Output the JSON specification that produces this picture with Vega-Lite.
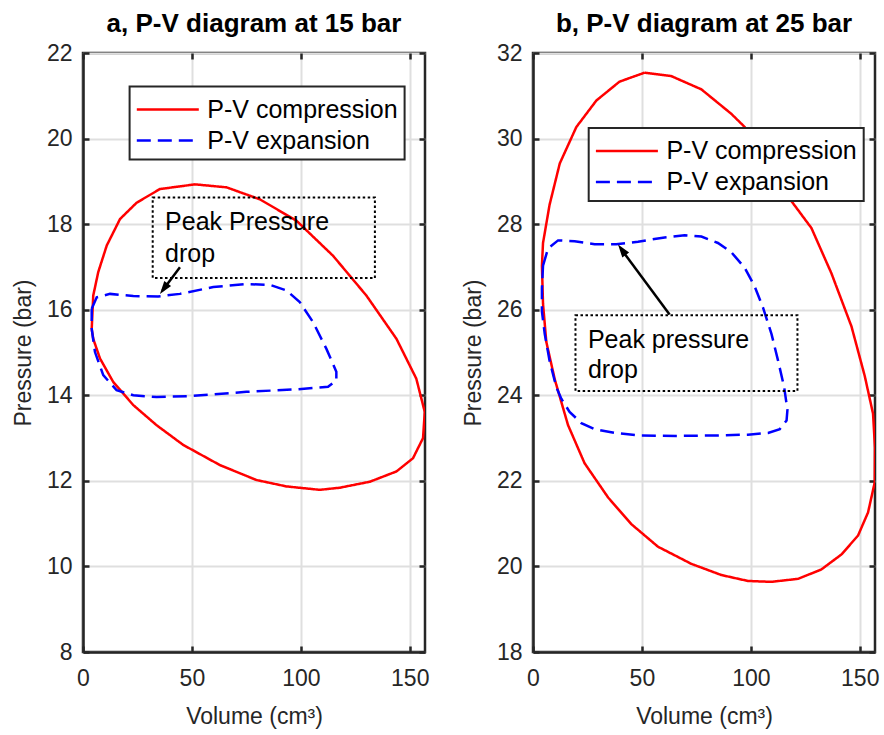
{
"$schema":"https://vega.github.io/schema/vega-lite/v6.json",
"padding":{"left":11,"top":9,"right":0,"bottom":0},
"datasets":{
"curves":[
{"panel":"a","s":"P-V compression","i":1,"V":4.0,"P":15.55},
{"panel":"a","s":"P-V compression","i":2,"V":4.7,"P":16.33},
{"panel":"a","s":"P-V compression","i":3,"V":7.0,"P":16.88},
{"panel":"a","s":"P-V compression","i":4,"V":10.9,"P":17.5},
{"panel":"a","s":"P-V compression","i":5,"V":17.0,"P":18.12},
{"panel":"a","s":"P-V compression","i":6,"V":24.6,"P":18.5},
{"panel":"a","s":"P-V compression","i":7,"V":35.3,"P":18.82},
{"panel":"a","s":"P-V compression","i":8,"V":51.4,"P":18.93},
{"panel":"a","s":"P-V compression","i":9,"V":65.9,"P":18.86},
{"panel":"a","s":"P-V compression","i":10,"V":81.2,"P":18.58},
{"panel":"a","s":"P-V compression","i":11,"V":98.0,"P":18.08},
{"panel":"a","s":"P-V compression","i":12,"V":114.8,"P":17.26},
{"panel":"a","s":"P-V compression","i":13,"V":130.1,"P":16.33},
{"panel":"a","s":"P-V compression","i":14,"V":143.9,"P":15.32},
{"panel":"a","s":"P-V compression","i":15,"V":153.0,"P":14.39},
{"panel":"a","s":"P-V compression","i":16,"V":156.9,"P":13.61},
{"panel":"a","s":"P-V compression","i":17,"V":156.1,"P":13.0},
{"panel":"a","s":"P-V compression","i":18,"V":151.5,"P":12.53},
{"panel":"a","s":"P-V compression","i":19,"V":143.9,"P":12.22},
{"panel":"a","s":"P-V compression","i":20,"V":131.7,"P":11.98},
{"panel":"a","s":"P-V compression","i":21,"V":117.9,"P":11.84},
{"panel":"a","s":"P-V compression","i":22,"V":108.7,"P":11.79},
{"panel":"a","s":"P-V compression","i":23,"V":93.4,"P":11.87},
{"panel":"a","s":"P-V compression","i":24,"V":79.6,"P":12.02},
{"panel":"a","s":"P-V compression","i":25,"V":62.8,"P":12.37},
{"panel":"a","s":"P-V compression","i":26,"V":46.0,"P":12.84},
{"panel":"a","s":"P-V compression","i":27,"V":33.8,"P":13.3},
{"panel":"a","s":"P-V compression","i":28,"V":23.1,"P":13.77},
{"panel":"a","s":"P-V compression","i":29,"V":13.9,"P":14.31},
{"panel":"a","s":"P-V compression","i":30,"V":7.8,"P":14.86},
{"panel":"a","s":"P-V compression","i":31,"V":4.7,"P":15.32},
{"panel":"a","s":"P-V compression","i":32,"V":4.0,"P":15.55},
{"panel":"a","s":"P-V expansion","i":1,"V":4.0,"P":16.02},
{"panel":"a","s":"P-V expansion","i":2,"V":6.3,"P":16.29},
{"panel":"a","s":"P-V expansion","i":3,"V":12.4,"P":16.37},
{"panel":"a","s":"P-V expansion","i":4,"V":23.1,"P":16.32},
{"panel":"a","s":"P-V expansion","i":5,"V":34.5,"P":16.31},
{"panel":"a","s":"P-V expansion","i":6,"V":44.5,"P":16.37},
{"panel":"a","s":"P-V expansion","i":7,"V":59.8,"P":16.53},
{"panel":"a","s":"P-V expansion","i":8,"V":75.0,"P":16.6},
{"panel":"a","s":"P-V expansion","i":9,"V":85.8,"P":16.58},
{"panel":"a","s":"P-V expansion","i":10,"V":93.4,"P":16.45},
{"panel":"a","s":"P-V expansion","i":11,"V":99.5,"P":16.18},
{"panel":"a","s":"P-V expansion","i":12,"V":105.6,"P":15.71},
{"panel":"a","s":"P-V expansion","i":13,"V":111.7,"P":15.09},
{"panel":"a","s":"P-V expansion","i":14,"V":116.3,"P":14.55},
{"panel":"a","s":"P-V expansion","i":15,"V":116.3,"P":14.35},
{"panel":"a","s":"P-V expansion","i":16,"V":112.5,"P":14.2},
{"panel":"a","s":"P-V expansion","i":17,"V":98.0,"P":14.14},
{"panel":"a","s":"P-V expansion","i":18,"V":75.0,"P":14.08},
{"panel":"a","s":"P-V expansion","i":19,"V":49.0,"P":13.98},
{"panel":"a","s":"P-V expansion","i":20,"V":33.8,"P":13.96},
{"panel":"a","s":"P-V expansion","i":21,"V":23.1,"P":14.0},
{"panel":"a","s":"P-V expansion","i":22,"V":15.4,"P":14.12},
{"panel":"a","s":"P-V expansion","i":23,"V":9.3,"P":14.47},
{"panel":"a","s":"P-V expansion","i":24,"V":5.5,"P":15.01},
{"panel":"a","s":"P-V expansion","i":25,"V":4.0,"P":15.55},
{"panel":"a","s":"P-V expansion","i":26,"V":4.0,"P":16.02},
{"panel":"b","s":"P-V compression","i":1,"V":51.2,"P":31.54},
{"panel":"b","s":"P-V compression","i":2,"V":63.5,"P":31.46},
{"panel":"b","s":"P-V compression","i":3,"V":77.3,"P":31.15},
{"panel":"b","s":"P-V compression","i":4,"V":91.0,"P":30.58},
{"panel":"b","s":"P-V compression","i":5,"V":97.2,"P":30.27},
{"panel":"b","s":"P-V compression","i":6,"V":118.6,"P":28.54},
{"panel":"b","s":"P-V compression","i":7,"V":127.8,"P":27.91},
{"panel":"b","s":"P-V compression","i":8,"V":137.0,"P":26.85},
{"panel":"b","s":"P-V compression","i":9,"V":146.2,"P":25.61},
{"panel":"b","s":"P-V compression","i":10,"V":152.3,"P":24.45},
{"panel":"b","s":"P-V compression","i":11,"V":156.1,"P":23.57},
{"panel":"b","s":"P-V compression","i":12,"V":157.0,"P":22.77},
{"panel":"b","s":"P-V compression","i":13,"V":156.9,"P":21.97},
{"panel":"b","s":"P-V compression","i":14,"V":153.8,"P":21.26},
{"panel":"b","s":"P-V compression","i":15,"V":149.2,"P":20.72},
{"panel":"b","s":"P-V compression","i":16,"V":141.6,"P":20.28},
{"panel":"b","s":"P-V compression","i":17,"V":132.4,"P":19.93},
{"panel":"b","s":"P-V compression","i":18,"V":121.7,"P":19.71},
{"panel":"b","s":"P-V compression","i":19,"V":109.4,"P":19.64},
{"panel":"b","s":"P-V compression","i":20,"V":98.7,"P":19.66},
{"panel":"b","s":"P-V compression","i":21,"V":86.4,"P":19.8},
{"panel":"b","s":"P-V compression","i":22,"V":72.7,"P":20.06},
{"panel":"b","s":"P-V compression","i":23,"V":57.4,"P":20.46},
{"panel":"b","s":"P-V compression","i":24,"V":45.1,"P":20.99},
{"panel":"b","s":"P-V compression","i":25,"V":34.5,"P":21.61},
{"panel":"b","s":"P-V compression","i":26,"V":23.7,"P":22.41},
{"panel":"b","s":"P-V compression","i":27,"V":16.1,"P":23.3},
{"panel":"b","s":"P-V compression","i":28,"V":10.0,"P":24.37},
{"panel":"b","s":"P-V compression","i":29,"V":6.1,"P":25.25},
{"panel":"b","s":"P-V compression","i":30,"V":4.6,"P":26.14},
{"panel":"b","s":"P-V compression","i":31,"V":4.1,"P":27.03},
{"panel":"b","s":"P-V compression","i":32,"V":4.6,"P":27.56},
{"panel":"b","s":"P-V compression","i":33,"V":7.6,"P":28.45},
{"panel":"b","s":"P-V compression","i":34,"V":12.3,"P":29.42},
{"panel":"b","s":"P-V compression","i":35,"V":19.9,"P":30.27},
{"panel":"b","s":"P-V compression","i":36,"V":29.1,"P":30.89},
{"panel":"b","s":"P-V compression","i":37,"V":39.7,"P":31.33},
{"panel":"b","s":"P-V compression","i":38,"V":51.2,"P":31.54},
{"panel":"b","s":"P-V expansion","i":1,"V":4.6,"P":27.03},
{"panel":"b","s":"P-V expansion","i":2,"V":6.9,"P":27.43},
{"panel":"b","s":"P-V expansion","i":3,"V":11.5,"P":27.62},
{"panel":"b","s":"P-V expansion","i":4,"V":19.1,"P":27.6},
{"panel":"b","s":"P-V expansion","i":5,"V":28.3,"P":27.53},
{"panel":"b","s":"P-V expansion","i":6,"V":38.2,"P":27.53},
{"panel":"b","s":"P-V expansion","i":7,"V":48.2,"P":27.59},
{"panel":"b","s":"P-V expansion","i":8,"V":60.4,"P":27.69},
{"panel":"b","s":"P-V expansion","i":9,"V":69.6,"P":27.74},
{"panel":"b","s":"P-V expansion","i":10,"V":77.3,"P":27.71},
{"panel":"b","s":"P-V expansion","i":11,"V":84.9,"P":27.56},
{"panel":"b","s":"P-V expansion","i":12,"V":91.1,"P":27.34},
{"panel":"b","s":"P-V expansion","i":13,"V":97.2,"P":26.98},
{"panel":"b","s":"P-V expansion","i":14,"V":101.8,"P":26.54},
{"panel":"b","s":"P-V expansion","i":15,"V":105.6,"P":26.05},
{"panel":"b","s":"P-V expansion","i":16,"V":109.5,"P":25.43},
{"panel":"b","s":"P-V expansion","i":17,"V":112.5,"P":24.81},
{"panel":"b","s":"P-V expansion","i":18,"V":115.3,"P":24.19},
{"panel":"b","s":"P-V expansion","i":19,"V":116.8,"P":23.66},
{"panel":"b","s":"P-V expansion","i":20,"V":116.4,"P":23.41},
{"panel":"b","s":"P-V expansion","i":21,"V":113.3,"P":23.21},
{"panel":"b","s":"P-V expansion","i":22,"V":107.9,"P":23.12},
{"panel":"b","s":"P-V expansion","i":23,"V":98.7,"P":23.08},
{"panel":"b","s":"P-V expansion","i":24,"V":83.4,"P":23.06},
{"panel":"b","s":"P-V expansion","i":25,"V":66.5,"P":23.05},
{"panel":"b","s":"P-V expansion","i":26,"V":49.7,"P":23.06},
{"panel":"b","s":"P-V expansion","i":27,"V":37.4,"P":23.12},
{"panel":"b","s":"P-V expansion","i":28,"V":28.3,"P":23.21},
{"panel":"b","s":"P-V expansion","i":29,"V":22.2,"P":23.35},
{"panel":"b","s":"P-V expansion","i":30,"V":16.8,"P":23.61},
{"panel":"b","s":"P-V expansion","i":31,"V":13.0,"P":23.92},
{"panel":"b","s":"P-V expansion","i":32,"V":10.7,"P":24.19},
{"panel":"b","s":"P-V expansion","i":33,"V":7.6,"P":24.81},
{"panel":"b","s":"P-V expansion","i":34,"V":5.4,"P":25.43},
{"panel":"b","s":"P-V expansion","i":35,"V":4.1,"P":25.96},
{"panel":"b","s":"P-V expansion","i":36,"V":4.1,"P":26.5},
{"panel":"b","s":"P-V expansion","i":37,"V":4.6,"P":27.03}
],
"boxes":[
{"panel":"a","x":32,"x2":134,"y":16.74,"y2":18.62},
{"panel":"b","x":19.5,"x2":121.4,"y":24.1,"y2":25.87}
],
"texts":[
{"panel":"a","x":37.7,"y":18.04,"t":"Peak Pressure"},
{"panel":"a","x":37.7,"y":17.3,"t":"drop"},
{"panel":"b","x":25.2,"y":25.3,"t":"Peak pressure"},
{"panel":"b","x":25.2,"y":24.59,"t":"drop"}
],
"arrows":[
{"panel":"a","x":44.5,"y":16.99,"x2":36.5,"y2":16.45},
{"panel":"b","x":62.7,"y":25.89,"x2":41.0,"y2":27.38}
],
"heads":[
{"panel":"a","x":37.1,"y":16.49},
{"panel":"b","x":40.8,"y":27.4}
]
},
"hconcat":[
{
"width":342,"height":599,
"title":{"text":"a, P-V diagram at 15 bar"},
"layer":[
{"data":{"name":"curves"},"transform":[{"filter":"datum.panel==='a'"}],
"mark":{"type":"line","strokeWidth":2.5,"clip":true,"strokeCap":"butt"},
"encoding":{
"x":{"field":"V","type":"quantitative","scale":{"domain":[0,157],"nice":false,"zero":false},"axis":{"values":[0,50,100,150],"title":"Volume (cm³)"}},
"y":{"field":"P","type":"quantitative","scale":{"domain":[8,22],"nice":false,"zero":false},"axis":{"values":[8,10,12,14,16,18,20,22],"title":"Pressure (bar)"}},
"order":{"field":"i","type":"quantitative"},
"color":{"field":"s","type":"nominal","scale":{"domain":["P-V compression","P-V expansion"],"range":["#ff0000","#0000ff"]},"legend":{"title":null,"orient":"none","legendX":46.6,"legendY":33.6}},
"strokeDash":{"field":"s","type":"nominal","scale":{"domain":["P-V compression","P-V expansion"],"range":[[1,0],[14,7]]},"legend":{"title":null,"orient":"none","legendX":46.6,"legendY":33.6}}
}},
{"data":{"name":"boxes"},"transform":[{"filter":"datum.panel==='a'"}],
"mark":{"type":"rect","fill":"transparent","stroke":"black","strokeWidth":2,"strokeDash":[2.5,2.5]},
"encoding":{"x":{"field":"x","type":"quantitative","axis":null},"x2":{"field":"x2"},"y":{"field":"y","type":"quantitative","axis":null},"y2":{"field":"y2"}}},
{"data":{"name":"texts"},"transform":[{"filter":"datum.panel==='a'"}],
"mark":{"type":"text","align":"left","baseline":"middle","fontSize":25,"color":"black"},
"encoding":{"x":{"field":"x","type":"quantitative","axis":null},"y":{"field":"y","type":"quantitative","axis":null},"text":{"field":"t"}}},
{"data":{"name":"arrows"},"transform":[{"filter":"datum.panel==='a'"}],
"mark":{"type":"rule","color":"black","strokeWidth":2.5},
"encoding":{"x":{"field":"x","type":"quantitative","axis":null},"y":{"field":"y","type":"quantitative","axis":null},"x2":{"field":"x2"},"y2":{"field":"y2"}}},
{"data":{"name":"heads"},"transform":[{"filter":"datum.panel==='a'"}],
"mark":{"type":"point","shape":"M0,-1L0.65,1L-0.65,1Z","filled":true,"fill":"black","opacity":1,"size":169,"angle":216.5,"strokeWidth":0},
"encoding":{"x":{"field":"x","type":"quantitative","axis":null},"y":{"field":"y","type":"quantitative","axis":null}}},
{"data":{"name":"curves"},"transform":[{"filter":"datum.panel==='a'"}],
"mark":{"type":"point","opacity":0},
"encoding":{
"x":{"field":"V","type":"quantitative","scale":{"domain":[0,157],"nice":false,"zero":false},"axis":{"orient":"top","values":[0,50,100,150],"labels":false,"title":null,"grid":false,"domain":false}},
"y":{"field":"P","type":"quantitative","scale":{"domain":[8,22],"nice":false,"zero":false},"axis":{"orient":"right","values":[8,10,12,14,16,18,20,22],"labels":false,"title":null,"grid":false,"domain":false}}
}}
],
"resolve":{"axis":{"x":"independent","y":"independent"}}
},
{
"width":342,"height":599,
"title":{"text":"b, P-V diagram at 25 bar"},
"layer":[
{"data":{"name":"curves"},"transform":[{"filter":"datum.panel==='b'"}],
"mark":{"type":"line","strokeWidth":2.5,"clip":true,"strokeCap":"butt"},
"encoding":{
"x":{"field":"V","type":"quantitative","scale":{"domain":[0,157],"nice":false,"zero":false},"axis":{"values":[0,50,100,150],"title":"Volume (cm³)"}},
"y":{"field":"P","type":"quantitative","scale":{"domain":[18,32],"nice":false,"zero":false},"axis":{"values":[18,20,22,24,26,28,30,32],"title":"Pressure (bar)"}},
"order":{"field":"i","type":"quantitative"},
"color":{"field":"s","type":"nominal","scale":{"domain":["P-V compression","P-V expansion"],"range":["#ff0000","#0000ff"]},"legend":{"title":null,"orient":"none","legendX":55.7,"legendY":75}},
"strokeDash":{"field":"s","type":"nominal","scale":{"domain":["P-V compression","P-V expansion"],"range":[[1,0],[14,7]]},"legend":{"title":null,"orient":"none","legendX":55.7,"legendY":75}}
}},
{"data":{"name":"boxes"},"transform":[{"filter":"datum.panel==='b'"}],
"mark":{"type":"rect","fill":"transparent","stroke":"black","strokeWidth":2,"strokeDash":[2.5,2.5]},
"encoding":{"x":{"field":"x","type":"quantitative","axis":null},"x2":{"field":"x2"},"y":{"field":"y","type":"quantitative","axis":null},"y2":{"field":"y2"}}},
{"data":{"name":"texts"},"transform":[{"filter":"datum.panel==='b'"}],
"mark":{"type":"text","align":"left","baseline":"middle","fontSize":25,"color":"black"},
"encoding":{"x":{"field":"x","type":"quantitative","axis":null},"y":{"field":"y","type":"quantitative","axis":null},"text":{"field":"t"}}},
{"data":{"name":"arrows"},"transform":[{"filter":"datum.panel==='b'"}],
"mark":{"type":"rule","color":"black","strokeWidth":2.5},
"encoding":{"x":{"field":"x","type":"quantitative","axis":null},"y":{"field":"y","type":"quantitative","axis":null},"x2":{"field":"x2"},"y2":{"field":"y2"}}},
{"data":{"name":"heads"},"transform":[{"filter":"datum.panel==='b'"}],
"mark":{"type":"point","shape":"M0,-1L0.65,1L-0.65,1Z","filled":true,"fill":"black","opacity":1,"size":169,"angle":323.7,"strokeWidth":0},
"encoding":{"x":{"field":"x","type":"quantitative","axis":null},"y":{"field":"y","type":"quantitative","axis":null}}},
{"data":{"name":"curves"},"transform":[{"filter":"datum.panel==='b'"}],
"mark":{"type":"point","opacity":0},
"encoding":{
"x":{"field":"V","type":"quantitative","scale":{"domain":[0,157],"nice":false,"zero":false},"axis":{"orient":"top","values":[0,50,100,150],"labels":false,"title":null,"grid":false,"domain":false}},
"y":{"field":"P","type":"quantitative","scale":{"domain":[18,32],"nice":false,"zero":false},"axis":{"orient":"right","values":[18,20,22,24,26,28,30,32],"labels":false,"title":null,"grid":false,"domain":false}}
}}
],
"resolve":{"axis":{"x":"independent","y":"independent"}}
}
],
"spacing":30,
"resolve":{"scale":{"color":"independent","strokeDash":"independent"},"legend":{"color":"independent","strokeDash":"independent"}},
"config":{
"font":"Liberation Sans",
"view":{"stroke":"#262626","strokeWidth":2.5},
"axis":{"domainColor":"#262626","domainWidth":2.5,"tickColor":"#262626","tickWidth":2.5,"tickSize":-6,"labelFont":"Liberation Sans","labelFontSize":23,"labelColor":"#262626","labelPadding":17,"titleFont":"Liberation Sans","titleFontSize":23,"titleFontWeight":"normal","titleColor":"#262626","gridColor":"#dfdfdf","gridWidth":2,"gridOpacity":1,"labelFlush":false,"labelOverlap":false},
"axisX":{"labelPadding":21,"titlePadding":15},
"axisY":{"titlePadding":10.5},
"legend":{"fillColor":"white","strokeColor":"#262626","strokeWidth":2,"padding":6,"labelFont":"Liberation Sans","labelFontSize":25,"labelColor":"black","symbolSize":961,"symbolStrokeWidth":2.5,"symbolType":"M-2,0H2","symbolOffset":15.2,"rowPadding":1,"labelOffset":22.5,"labelLimit":400,"zindex":1},
"title":{"font":"Liberation Sans","fontSize":26,"fontWeight":"bold","color":"black","frame":"group","offset":5,"anchor":"middle"}
}
}
